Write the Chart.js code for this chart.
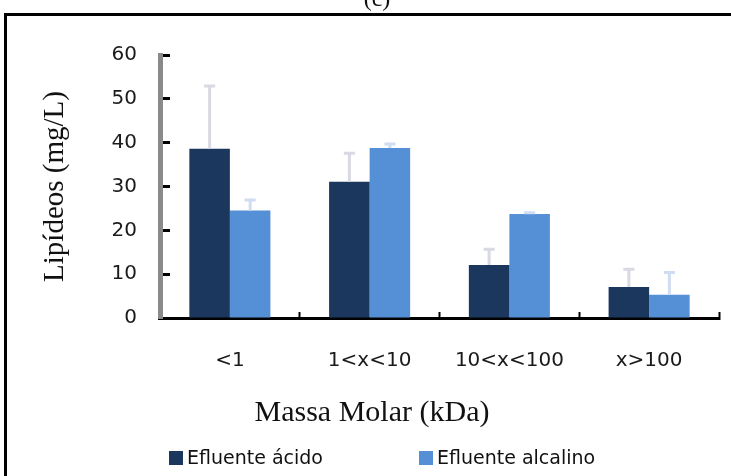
<!DOCTYPE html>
<html>
<head>
<meta charset="utf-8">
<script src="https://cdn.jsdelivr.net/npm/chart.js@4.4.1/dist/chart.umd.min.js"></script>
<style>
  html, body { margin: 0; padding: 0; background: #fff; }
  canvas { display: block; }
</style>
</head>
<body>
<canvas id="chart" width="731" height="476"></canvas>
<script>
// Molar mass fractions (kDa)
const categories = ['<1', '1<x<10', '10<x<100', 'x>100'];
const seriesNames = ['Efluente ácido', 'Efluente alcalino'];

// Lipid content (mg/L) and upper standard deviation per fraction
const acido = [38.6, 31.1, 12.1, 7.1];
const acidoErr = [14.3, 6.5, 3.6, 4.0];
const alcalino = [24.5, 38.8, 23.7, 5.3];
const alcalinoErr = [2.4, 0.9, 0.3, 5.1];

const yTicks = [0, 10, 20, 30, 40, 50, 60];

const barColors = ['#1b375e', '#5590d6'];
const whiskerColors = ['#d8d9e2', '#cfdcf1'];

// Upper error whiskers with a short cap, drawn from each bar's own value
const errorBars = {
  id: 'errorBars',
  afterDatasetsDraw(chart) {
    const ctx = chart.ctx;
    const y = chart.scales.y;
    chart.data.datasets.forEach((ds, di) => {
      const meta = chart.getDatasetMeta(di);
      meta.data.forEach((bar, i) => {
        const top = y.getPixelForValue(ds.data[i] + ds.errors[i]);
        ctx.save();
        ctx.strokeStyle = whiskerColors[di];
        ctx.lineWidth = 3;
        ctx.beginPath();
        ctx.moveTo(bar.x, bar.y);
        ctx.lineTo(bar.x, top);
        ctx.moveTo(bar.x - 5.5, top);
        ctx.lineTo(bar.x + 5.5, top);
        ctx.stroke();
        ctx.restore();
      });
    });
  }
};

// Frame, panel letter, x-axis caption and legend
const decorations = {
  id: 'decorations',
  afterDraw(chart) {
    const ctx = chart.ctx;
    ctx.save();
    ctx.strokeStyle = '#000';
    ctx.lineWidth = 3;
    ctx.beginPath();
    ctx.moveTo(5.5, chart.height + 10);
    ctx.lineTo(5.5, 14.5);
    ctx.lineTo(chart.width + 10, 14.5);
    ctx.stroke();

    ctx.fillStyle = '#111';
    ctx.textAlign = 'center';
    ctx.textBaseline = 'alphabetic';
    ctx.font = '24px "Liberation Serif", "Times New Roman", serif';
    ctx.fillText('(c)', 377, 6);

    ctx.font = '30px "Liberation Serif", "Times New Roman", serif';
    ctx.fillText('Massa Molar (kDa)', 372, 421);

    const legendX = [169, 419];
    ctx.font = '19px "DejaVu Sans", sans-serif';
    ctx.textAlign = 'left';
    ctx.textBaseline = 'middle';
    chart.data.datasets.forEach((ds, di) => {
      ctx.fillStyle = ds.backgroundColor;
      ctx.fillRect(legendX[di], 451, 14, 14);
      ctx.fillStyle = '#111';
      ctx.fillText(ds.label, legendX[di] + 18, 459);
    });
    ctx.restore();
  }
};

new Chart(document.getElementById('chart'), {
  type: 'bar',
  data: {
    labels: categories,
    datasets: [
      { label: seriesNames[0], data: acido, errors: acidoErr, backgroundColor: barColors[0] },
      { label: seriesNames[1], data: alcalino, errors: alcalinoErr, backgroundColor: barColors[1] }
    ]
  },
  options: {
    responsive: false,
    devicePixelRatio: 1,
    animation: false,
    layout: { padding: { top: 55, left: 0, right: 12, bottom: 98 } },
    datasets: { bar: { categoryPercentage: 0.58, barPercentage: 1.0, borderWidth: 0 } },
    plugins: { legend: { display: false }, tooltip: { enabled: false } },
    scales: {
      x: {
        grid: { display: true, drawOnChartArea: false, tickLength: -6, tickColor: '#000', tickWidth: 2, offset: true },
        border: { display: true, color: '#000', width: 3 },
        ticks: { color: '#1a1a1a', font: { family: 'DejaVu Sans', size: 20 }, padding: 37 },
        afterFit(scale) { scale.height = 60; }
      },
      y: {
        min: 0,
        max: 60,
        afterBuildTicks(scale) { scale.ticks = yTicks.map(v => ({ value: v })); },
        grid: { display: true, drawOnChartArea: false, tickLength: -10, tickColor: '#000', tickWidth: 3 },
        border: { display: true, color: '#8a8a8a', width: 5 },
        ticks: { color: '#1a1a1a', font: { family: 'DejaVu Sans', size: 20 }, padding: 33 },
        title: {
          display: true,
          text: 'Lipídeos (mg/L)',
          color: '#111',
          font: { family: 'Liberation Serif', size: 29 },
          padding: { top: 38, bottom: 0 }
        },
        afterFit(scale) { scale.width = 160; }
      }
    }
  },
  plugins: [errorBars, decorations]
});
</script>
</body>
</html>
